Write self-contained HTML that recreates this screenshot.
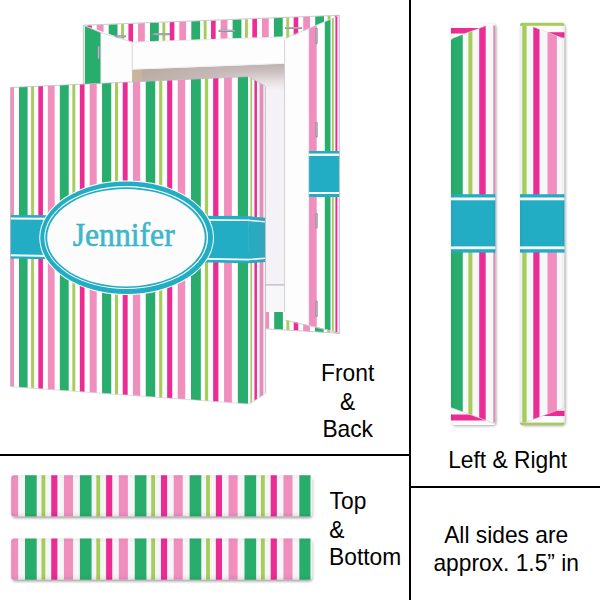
<!DOCTYPE html>
<html><head><meta charset="utf-8"><title>Canvas preview</title><style>html,body{margin:0;padding:0;background:#fff}svg{display:block}</style></head><body>
<svg width="600" height="600" viewBox="0 0 600 600">
<defs>
<clipPath id="cf"><polygon points="10.40,87.40 249.30,76.50 250.20,404.00 10.40,386.50"/></clipPath>
<clipPath id="cr"><polygon points="248.50,76.50 265.20,86.00 265.50,393.50 249.40,404.00"/></clipPath>
<clipPath id="ct"><polygon points="84.50,25.60 339.50,15.30 335.50,17.00 284.70,39.20 284.70,36.60 132.50,42.00"/></clipPath>
<clipPath id="cl"><polygon points="84.50,25.60 100.80,32.50 100.80,84.00 84.50,84.00"/></clipPath>
<clipPath id="crs"><polygon points="308.70,28.60 335.50,17.00 339.50,15.30 339.80,333.50 328.50,330.00 308.70,326.00"/></clipPath>
<clipPath id="cb"><polygon points="265.50,312.00 285.00,312.00 285.00,319.50 328.50,330.00 339.80,333.50 265.50,328.50"/></clipPath>
<linearGradient id="gint" x1="0" y1="0" x2="1" y2="0"><stop offset="0" stop-color="#b3a39b"/><stop offset="0.45" stop-color="#c0b2ae"/><stop offset="1" stop-color="#bfb2b0"/></linearGradient>
<linearGradient id="gintv" x1="0" y1="0" x2="0" y2="1"><stop offset="0" stop-color="#fff" stop-opacity="0"/><stop offset="1" stop-color="#fff" stop-opacity="0.25"/></linearGradient>
<linearGradient id="gfade" x1="0" y1="0" x2="0" y2="1"><stop offset="0" stop-color="#f4f2f6" stop-opacity="0"/><stop offset="0.35" stop-color="#f4f2f6" stop-opacity="0.22"/><stop offset="0.7" stop-color="#f4f2f6" stop-opacity="0.68"/><stop offset="1" stop-color="#f4f2f6" stop-opacity="1"/></linearGradient>
<linearGradient id="gshade" x1="0" y1="0" x2="1" y2="0"><stop offset="0" stop-color="#8a8090" stop-opacity="0.02"/><stop offset="1" stop-color="#8a8090" stop-opacity="0.16"/></linearGradient>
<linearGradient id="gstrip" x1="0" y1="0" x2="0" y2="1"><stop offset="0" stop-color="#000" stop-opacity="0.05"/><stop offset="0.12" stop-color="#000" stop-opacity="0"/><stop offset="0.85" stop-color="#000" stop-opacity="0"/><stop offset="1" stop-color="#000" stop-opacity="0.10"/></linearGradient>
<linearGradient id="gstripv" x1="0" y1="0" x2="1" y2="0"><stop offset="0" stop-color="#000" stop-opacity="0.05"/><stop offset="0.1" stop-color="#000" stop-opacity="0"/><stop offset="0.9" stop-color="#000" stop-opacity="0"/><stop offset="1" stop-color="#000" stop-opacity="0.07"/></linearGradient>
<linearGradient id="gstripe" x1="0" y1="0" x2="1" y2="0"><stop offset="0" stop-color="#000" stop-opacity="0.05"/><stop offset="0.015" stop-color="#000" stop-opacity="0"/><stop offset="0.985" stop-color="#000" stop-opacity="0"/><stop offset="1" stop-color="#000" stop-opacity="0.06"/></linearGradient>
<linearGradient id="gmh" gradientUnits="userSpaceOnUse" x1="205" y1="0" x2="258" y2="0"><stop offset="0" stop-color="#fff" stop-opacity="0"/><stop offset="1" stop-color="#fff" stop-opacity="1"/></linearGradient>
<mask id="mfade" maskUnits="userSpaceOnUse" x="200" y="60" width="90" height="35"><rect x="200" y="60" width="90" height="35" fill="url(#gmh)"/></mask>
<filter id="sh" x="-10%" y="-10%" width="120%" height="130%"><feGaussianBlur stdDeviation="1.6"/></filter>
<clipPath id="cs1"><rect x="11.2" y="475.2" width="301.1" height="41.4" rx="3" ry="3"/></clipPath>
<clipPath id="cs2"><rect x="11.2" y="538.4" width="301.1" height="41.4" rx="3" ry="3"/></clipPath>
<clipPath id="cv1"><rect x="451" y="22.8" width="44.3" height="402.3" rx="2.6" ry="2.6"/></clipPath>
<clipPath id="cv2"><rect x="520" y="22.8" width="44.5" height="402.3" rx="2.6" ry="2.6"/></clipPath>
</defs>
<rect x="0.00" y="0.00" width="600.00" height="600.00" fill="#fff" />
<polygon points="83.00,25.00 339.80,15.00 340.00,333.80 265.00,329.00 265.00,84.00 83.00,84.00" fill="#fdfdfd" />
<polygon points="132.30,69.60 284.70,63.60 284.70,100.00 132.30,100.00" fill="url(#gint)" />
<polygon points="132.30,69.60 284.70,63.60 284.70,100.00 132.30,100.00" fill="url(#gintv)" />
<polygon points="132.30,70.00 141.80,69.70 141.80,90.00 132.30,90.00" fill="#c9b49c" />
<polygon points="200.00,66.90 284.70,63.60 284.70,90.00 200.00,90.00" fill="url(#gfade)" mask="url(#mfade)"/>
<rect x="255.00" y="89.50" width="29.70" height="196.00" fill="#f4f2f6" />
<rect x="265.00" y="285.00" width="20.00" height="28.00" fill="#f7f6f9" />
<rect x="265.50" y="284.30" width="19.50" height="1.20" fill="#b9b7bd" />
<rect x="284.20" y="39.20" width="0.90" height="281.00" fill="#cfcdd3" />
<g clip-path="url(#ct)">
<rect x="80.00" y="10.00" width="270.00" height="40.00" fill="#fff" />
<rect x="26.10" y="10.00" width="8.80" height="40.00" fill="#29ad6c" />
<rect x="38.49" y="10.00" width="2.89" height="40.00" fill="#a6cd59" />
<rect x="45.84" y="10.00" width="4.63" height="40.00" fill="#ec2b94" />
<rect x="55.42" y="10.00" width="6.81" height="40.00" fill="#f08fbe" />
<rect x="67.40" y="10.00" width="8.80" height="40.00" fill="#29ad6c" />
<rect x="79.79" y="10.00" width="2.89" height="40.00" fill="#a6cd59" />
<rect x="87.14" y="10.00" width="4.63" height="40.00" fill="#ec2b94" />
<rect x="96.72" y="10.00" width="6.81" height="40.00" fill="#f08fbe" />
<rect x="108.70" y="10.00" width="8.80" height="40.00" fill="#29ad6c" />
<rect x="121.09" y="10.00" width="2.89" height="40.00" fill="#a6cd59" />
<rect x="128.44" y="10.00" width="4.63" height="40.00" fill="#ec2b94" />
<rect x="138.02" y="10.00" width="6.81" height="40.00" fill="#f08fbe" />
<rect x="150.00" y="10.00" width="8.80" height="40.00" fill="#29ad6c" />
<rect x="162.39" y="10.00" width="2.89" height="40.00" fill="#a6cd59" />
<rect x="169.74" y="10.00" width="4.63" height="40.00" fill="#ec2b94" />
<rect x="179.32" y="10.00" width="6.81" height="40.00" fill="#f08fbe" />
<rect x="191.30" y="10.00" width="8.80" height="40.00" fill="#29ad6c" />
<rect x="203.69" y="10.00" width="2.89" height="40.00" fill="#a6cd59" />
<rect x="211.04" y="10.00" width="4.63" height="40.00" fill="#ec2b94" />
<rect x="220.62" y="10.00" width="6.81" height="40.00" fill="#f08fbe" />
<rect x="232.60" y="10.00" width="8.80" height="40.00" fill="#29ad6c" />
<rect x="244.99" y="10.00" width="2.89" height="40.00" fill="#a6cd59" />
<rect x="252.34" y="10.00" width="4.63" height="40.00" fill="#ec2b94" />
<rect x="261.92" y="10.00" width="6.81" height="40.00" fill="#f08fbe" />
<rect x="273.90" y="10.00" width="8.80" height="40.00" fill="#29ad6c" />
<rect x="286.29" y="10.00" width="2.89" height="40.00" fill="#a6cd59" />
<rect x="293.64" y="10.00" width="4.63" height="40.00" fill="#ec2b94" />
<rect x="303.22" y="10.00" width="6.81" height="40.00" fill="#f08fbe" />
<rect x="315.20" y="10.00" width="8.80" height="40.00" fill="#29ad6c" />
<rect x="327.59" y="10.00" width="2.89" height="40.00" fill="#a6cd59" />
<rect x="334.94" y="10.00" width="4.63" height="40.00" fill="#ec2b94" />
<rect x="344.52" y="10.00" width="6.81" height="40.00" fill="#f08fbe" />
</g>
<g clip-path="url(#cl)">
<rect x="84.50" y="20.00" width="16.50" height="70.00" fill="#29ad6c" />
</g>
<rect x="83.00" y="25.30" width="1.60" height="59.00" fill="#e9e9ec" />
<g clip-path="url(#crs)">
<rect x="300.00" y="10.00" width="45.00" height="330.00" fill="#fff" />
<rect x="308.70" y="10.00" width="8.00" height="330.00" fill="#f08fbe" />
<rect x="324.80" y="10.00" width="5.70" height="330.00" fill="#29ad6c" />
<rect x="332.00" y="10.00" width="1.80" height="330.00" fill="#a6cd59" />
<rect x="335.40" y="10.00" width="2.00" height="330.00" fill="#ec2b94" />
<rect x="338.60" y="10.00" width="1.40" height="330.00" fill="#d8d6da" />
<rect x="300.00" y="151.00" width="45.00" height="46.00" fill="#23adc4" />
<rect x="300.00" y="153.60" width="45.00" height="2.30" fill="#fff" />
<rect x="300.00" y="192.00" width="45.00" height="2.00" fill="#fff" />
</g>
<g clip-path="url(#cb)">
<rect x="260.00" y="305.00" width="85.00" height="35.00" fill="#fff" />
<rect x="233.40" y="305.00" width="8.69" height="35.00" fill="#29ad6c" />
<rect x="245.64" y="305.00" width="2.86" height="35.00" fill="#a6cd59" />
<rect x="252.90" y="305.00" width="4.57" height="35.00" fill="#ec2b94" />
<rect x="262.37" y="305.00" width="6.73" height="35.00" fill="#f08fbe" />
<rect x="274.20" y="305.00" width="8.69" height="35.00" fill="#29ad6c" />
<rect x="286.44" y="305.00" width="2.86" height="35.00" fill="#a6cd59" />
<rect x="293.70" y="305.00" width="4.57" height="35.00" fill="#ec2b94" />
<rect x="303.17" y="305.00" width="6.73" height="35.00" fill="#f08fbe" />
<rect x="315.00" y="305.00" width="8.69" height="35.00" fill="#29ad6c" />
<rect x="327.24" y="305.00" width="2.86" height="35.00" fill="#a6cd59" />
<rect x="334.50" y="305.00" width="4.57" height="35.00" fill="#ec2b94" />
<rect x="343.97" y="305.00" width="6.73" height="35.00" fill="#f08fbe" />
</g>
<polyline points="83.30,84.00 83.30,25.20 339.30,15.30 339.60,333.20 265.50,328.80" fill="none" stroke="#c4c4cb" stroke-width="0.90"/>
<polyline points="85.00,26.00 100.80,32.60 132.30,42.20" fill="none" stroke="#d2d2d8" stroke-width="0.80"/>
<polyline points="132.30,42.20 132.30,70.00" fill="none" stroke="#d2d2d8" stroke-width="0.90"/>
<polyline points="100.80,32.60 100.80,84.00" fill="none" stroke="#d9d9de" stroke-width="0.70"/>
<polyline points="132.30,42.20 284.70,36.90" fill="none" stroke="#e3e3e8" stroke-width="0.70"/>
<polyline points="284.50,38.50 335.50,17.20" fill="none" stroke="#d2d2d8" stroke-width="0.80"/>
<polyline points="132.30,69.20 284.70,63.30" fill="none" stroke="#f1f1f3" stroke-width="1.00"/>
<polyline points="285.30,320.30 326.00,329.80 339.30,333.00" fill="none" stroke="#c9c9cf" stroke-width="0.90"/>
<polyline points="308.70,28.80 308.70,325.50" fill="none" stroke="#e6e4ea" stroke-width="0.60"/>
<line x1="116.5" y1="36.3" x2="125.0" y2="36.3" stroke="#8a8c9d" stroke-width="2.2" stroke-linecap="round"/>
<line x1="117.0" y1="36.1" x2="124.5" y2="36.1" stroke="#c9cad4" stroke-width="0.8" stroke-linecap="round"/>
<line x1="153.5" y1="34.2" x2="169.0" y2="34.2" stroke="#8a8c9d" stroke-width="2.2" stroke-linecap="round"/>
<line x1="154.0" y1="34.0" x2="168.5" y2="34.0" stroke="#c9cad4" stroke-width="0.8" stroke-linecap="round"/>
<line x1="219.5" y1="30.9" x2="234.5" y2="30.9" stroke="#8a8c9d" stroke-width="2.2" stroke-linecap="round"/>
<line x1="220.0" y1="30.7" x2="234.0" y2="30.7" stroke="#c9cad4" stroke-width="0.8" stroke-linecap="round"/>
<line x1="286.0" y1="28.0" x2="301.0" y2="28.0" stroke="#8a8c9d" stroke-width="2.2" stroke-linecap="round"/>
<line x1="286.5" y1="27.8" x2="300.5" y2="27.8" stroke="#c9cad4" stroke-width="0.8" stroke-linecap="round"/>
<line x1="98.5" y1="46.5" x2="98.5" y2="58.5" stroke="#8a8c9d" stroke-width="2.2" stroke-linecap="round"/>
<line x1="98.7" y1="47.0" x2="98.7" y2="58.0" stroke="#c9cad4" stroke-width="0.8" stroke-linecap="round"/>
<line x1="316.6" y1="29.0" x2="316.6" y2="43.0" stroke="#8a8c9d" stroke-width="2.2" stroke-linecap="round"/>
<line x1="316.8" y1="29.5" x2="316.8" y2="42.5" stroke="#c9cad4" stroke-width="0.8" stroke-linecap="round"/>
<line x1="316.6" y1="123.0" x2="316.6" y2="136.5" stroke="#8a8c9d" stroke-width="2.2" stroke-linecap="round"/>
<line x1="316.8" y1="123.5" x2="316.8" y2="136.0" stroke="#c9cad4" stroke-width="0.8" stroke-linecap="round"/>
<line x1="316.6" y1="214.0" x2="316.6" y2="227.5" stroke="#8a8c9d" stroke-width="2.2" stroke-linecap="round"/>
<line x1="316.8" y1="214.5" x2="316.8" y2="227.0" stroke="#c9cad4" stroke-width="0.8" stroke-linecap="round"/>
<line x1="316.6" y1="301.5" x2="316.6" y2="316.0" stroke="#8a8c9d" stroke-width="2.2" stroke-linecap="round"/>
<line x1="316.8" y1="302.0" x2="316.8" y2="315.5" stroke="#c9cad4" stroke-width="0.8" stroke-linecap="round"/>
<g clip-path="url(#cf)">
<rect x="5.00" y="70.00" width="250.00" height="340.00" fill="#fff" />
<rect x="-20.52" y="70.00" width="8.31" height="340.00" fill="#29ad6c" />
<rect x="-8.80" y="70.00" width="2.75" height="340.00" fill="#a6cd59" />
<rect x="-1.79" y="70.00" width="4.43" height="340.00" fill="#ec2b94" />
<rect x="7.40" y="70.00" width="6.58" height="340.00" fill="#f08fbe" />
<rect x="19.00" y="70.00" width="8.58" height="340.00" fill="#29ad6c" />
<rect x="31.10" y="70.00" width="2.84" height="340.00" fill="#a6cd59" />
<rect x="38.34" y="70.00" width="4.58" height="340.00" fill="#ec2b94" />
<rect x="47.85" y="70.00" width="6.80" height="340.00" fill="#f08fbe" />
<rect x="59.83" y="70.00" width="8.87" height="340.00" fill="#29ad6c" />
<rect x="72.35" y="70.00" width="2.94" height="340.00" fill="#a6cd59" />
<rect x="79.83" y="70.00" width="4.73" height="340.00" fill="#ec2b94" />
<rect x="89.66" y="70.00" width="7.04" height="340.00" fill="#f08fbe" />
<rect x="102.05" y="70.00" width="9.18" height="340.00" fill="#29ad6c" />
<rect x="115.00" y="70.00" width="3.04" height="340.00" fill="#a6cd59" />
<rect x="122.75" y="70.00" width="4.90" height="340.00" fill="#ec2b94" />
<rect x="132.92" y="70.00" width="7.28" height="340.00" fill="#f08fbe" />
<rect x="145.74" y="70.00" width="9.50" height="340.00" fill="#29ad6c" />
<rect x="159.14" y="70.00" width="3.15" height="340.00" fill="#a6cd59" />
<rect x="167.16" y="70.00" width="5.07" height="340.00" fill="#ec2b94" />
<rect x="177.69" y="70.00" width="7.54" height="340.00" fill="#f08fbe" />
<rect x="190.97" y="70.00" width="9.84" height="340.00" fill="#29ad6c" />
<rect x="204.85" y="70.00" width="3.26" height="340.00" fill="#a6cd59" />
<rect x="213.15" y="70.00" width="5.25" height="340.00" fill="#ec2b94" />
<rect x="224.06" y="70.00" width="7.81" height="340.00" fill="#f08fbe" />
<rect x="237.82" y="70.00" width="10.20" height="340.00" fill="#29ad6c" />
<rect x="252.20" y="70.00" width="3.38" height="340.00" fill="#a6cd59" />
<rect x="260.81" y="70.00" width="5.45" height="340.00" fill="#ec2b94" />
<rect x="272.11" y="70.00" width="8.10" height="340.00" fill="#f08fbe" />
<rect x="286.38" y="70.00" width="10.57" height="340.00" fill="#29ad6c" />
<rect x="301.29" y="70.00" width="3.50" height="340.00" fill="#a6cd59" />
<rect x="310.22" y="70.00" width="5.65" height="340.00" fill="#ec2b94" />
<rect x="321.95" y="70.00" width="8.40" height="340.00" fill="#f08fbe" />
<polygon points="10.00,215.00 249.00,216.10 249.00,263.30 10.00,258.60" fill="#23adc4" />
<polygon points="10.00,217.50 249.00,219.50 249.00,221.10 10.00,219.60" fill="#fff" />
<polygon points="10.00,254.20 249.00,258.70 249.00,260.40 10.00,256.30" fill="#fff" />
</g>
<g clip-path="url(#cr)">
<rect x="245.00" y="70.00" width="25.00" height="340.00" fill="#fff" />
<rect x="250.45" y="70.00" width="1.57" height="340.00" fill="#a6cd59" />
<rect x="254.44" y="70.00" width="2.51" height="340.00" fill="#ec2b94" />
<rect x="259.63" y="70.00" width="3.70" height="340.00" fill="#f08fbe" />
<polygon points="248.00,216.10 265.50,217.80 265.50,262.00 248.00,263.30" fill="#23adc4" />
<polygon points="248.00,219.50 265.50,221.30 265.50,222.50 248.00,221.10" fill="#fff" />
<polygon points="248.00,258.70 265.50,257.50 265.50,259.00 248.00,260.40" fill="#fff" />
<rect x="245.00" y="70.00" width="25.00" height="340.00" fill="url(#gshade)" />
</g>
<line x1="265.4" y1="86.5" x2="265.6" y2="393" stroke="#b9b5bf" stroke-width="0.8"/>
<polyline points="10.50,386.50 10.50,87.50 248.50,76.60 265.20,86.10" fill="none" stroke="#b4b4bc" stroke-width="0.70"/>
<polyline points="10.50,386.60 249.40,404.00 265.50,393.50" fill="none" stroke="#c8c8ce" stroke-width="0.60"/>
<ellipse cx="126.62" cy="237.75" rx="87.38" ry="57.25" fill="#fff" />
<ellipse cx="126.62" cy="237.75" rx="86.38" ry="56.25" fill="#23adc4" />
<ellipse cx="126.15" cy="237.50" rx="81.85" ry="51.50" fill="#fff" />
<ellipse cx="126.03" cy="237.60" rx="80.72" ry="50.40" fill="#23adc4" />
<ellipse cx="125.97" cy="237.70" rx="78.78" ry="48.80" fill="#fcfcfd" />
<text x="123.7" y="245.8" font-family="'Liberation Serif', serif" font-size="34" fill="#3fb9cc" stroke="#2aaec5" stroke-width="0.5" text-anchor="middle" textLength="102" lengthAdjust="spacingAndGlyphs">Jennifer</text>
<rect x="409.00" y="0.00" width="2.00" height="600.00" fill="#000" />
<rect x="0.00" y="454.00" width="410.00" height="2.00" fill="#000" />
<rect x="410.00" y="486.00" width="190.00" height="2.00" fill="#000" />
<rect x="12.2" y="478.0" width="300" height="40" rx="3" fill="#000" opacity="0.4" filter="url(#sh)"/>
<g clip-path="url(#cs1)">
<rect x="10.00" y="474.20" width="305.00" height="44.00" fill="#f6f6f6" />
<rect x="-29.87" y="474.20" width="11.69" height="44.00" fill="#29ad6c" />
<rect x="-13.41" y="474.20" width="3.84" height="44.00" fill="#a6cd59" />
<rect x="-3.64" y="474.20" width="6.15" height="44.00" fill="#ec2b94" />
<rect x="9.09" y="474.20" width="9.05" height="44.00" fill="#f08fbe" />
<rect x="25.00" y="474.20" width="11.69" height="44.00" fill="#29ad6c" />
<rect x="41.46" y="474.20" width="3.84" height="44.00" fill="#a6cd59" />
<rect x="51.23" y="474.20" width="6.15" height="44.00" fill="#ec2b94" />
<rect x="63.96" y="474.20" width="9.05" height="44.00" fill="#f08fbe" />
<rect x="79.87" y="474.20" width="11.69" height="44.00" fill="#29ad6c" />
<rect x="96.33" y="474.20" width="3.84" height="44.00" fill="#a6cd59" />
<rect x="106.10" y="474.20" width="6.15" height="44.00" fill="#ec2b94" />
<rect x="118.83" y="474.20" width="9.05" height="44.00" fill="#f08fbe" />
<rect x="134.74" y="474.20" width="11.69" height="44.00" fill="#29ad6c" />
<rect x="151.20" y="474.20" width="3.84" height="44.00" fill="#a6cd59" />
<rect x="160.97" y="474.20" width="6.15" height="44.00" fill="#ec2b94" />
<rect x="173.70" y="474.20" width="9.05" height="44.00" fill="#f08fbe" />
<rect x="189.61" y="474.20" width="11.69" height="44.00" fill="#29ad6c" />
<rect x="206.07" y="474.20" width="3.84" height="44.00" fill="#a6cd59" />
<rect x="215.84" y="474.20" width="6.15" height="44.00" fill="#ec2b94" />
<rect x="228.57" y="474.20" width="9.05" height="44.00" fill="#f08fbe" />
<rect x="244.48" y="474.20" width="11.69" height="44.00" fill="#29ad6c" />
<rect x="260.94" y="474.20" width="3.84" height="44.00" fill="#a6cd59" />
<rect x="270.71" y="474.20" width="6.15" height="44.00" fill="#ec2b94" />
<rect x="283.44" y="474.20" width="9.05" height="44.00" fill="#f08fbe" />
<rect x="299.35" y="474.20" width="11.69" height="44.00" fill="#29ad6c" />
<rect x="315.81" y="474.20" width="3.84" height="44.00" fill="#a6cd59" />
<rect x="325.58" y="474.20" width="6.15" height="44.00" fill="#ec2b94" />
<rect x="338.31" y="474.20" width="9.05" height="44.00" fill="#f08fbe" />
<rect x="310.50" y="474.20" width="4.00" height="44.00" fill="#f6f6f6" />
<rect x="10.00" y="474.20" width="305.00" height="44.00" fill="url(#gstrip)" />
<rect x="10.00" y="474.20" width="305.00" height="44.00" fill="url(#gstripe)" />
</g>
<rect x="12.2" y="541.2" width="300" height="40" rx="3" fill="#000" opacity="0.4" filter="url(#sh)"/>
<g clip-path="url(#cs2)">
<rect x="10.00" y="537.40" width="305.00" height="44.00" fill="#f6f6f6" />
<rect x="-29.87" y="537.40" width="11.69" height="44.00" fill="#29ad6c" />
<rect x="-13.41" y="537.40" width="3.84" height="44.00" fill="#a6cd59" />
<rect x="-3.64" y="537.40" width="6.15" height="44.00" fill="#ec2b94" />
<rect x="9.09" y="537.40" width="9.05" height="44.00" fill="#f08fbe" />
<rect x="25.00" y="537.40" width="11.69" height="44.00" fill="#29ad6c" />
<rect x="41.46" y="537.40" width="3.84" height="44.00" fill="#a6cd59" />
<rect x="51.23" y="537.40" width="6.15" height="44.00" fill="#ec2b94" />
<rect x="63.96" y="537.40" width="9.05" height="44.00" fill="#f08fbe" />
<rect x="79.87" y="537.40" width="11.69" height="44.00" fill="#29ad6c" />
<rect x="96.33" y="537.40" width="3.84" height="44.00" fill="#a6cd59" />
<rect x="106.10" y="537.40" width="6.15" height="44.00" fill="#ec2b94" />
<rect x="118.83" y="537.40" width="9.05" height="44.00" fill="#f08fbe" />
<rect x="134.74" y="537.40" width="11.69" height="44.00" fill="#29ad6c" />
<rect x="151.20" y="537.40" width="3.84" height="44.00" fill="#a6cd59" />
<rect x="160.97" y="537.40" width="6.15" height="44.00" fill="#ec2b94" />
<rect x="173.70" y="537.40" width="9.05" height="44.00" fill="#f08fbe" />
<rect x="189.61" y="537.40" width="11.69" height="44.00" fill="#29ad6c" />
<rect x="206.07" y="537.40" width="3.84" height="44.00" fill="#a6cd59" />
<rect x="215.84" y="537.40" width="6.15" height="44.00" fill="#ec2b94" />
<rect x="228.57" y="537.40" width="9.05" height="44.00" fill="#f08fbe" />
<rect x="244.48" y="537.40" width="11.69" height="44.00" fill="#29ad6c" />
<rect x="260.94" y="537.40" width="3.84" height="44.00" fill="#a6cd59" />
<rect x="270.71" y="537.40" width="6.15" height="44.00" fill="#ec2b94" />
<rect x="283.44" y="537.40" width="9.05" height="44.00" fill="#f08fbe" />
<rect x="299.35" y="537.40" width="11.69" height="44.00" fill="#29ad6c" />
<rect x="315.81" y="537.40" width="3.84" height="44.00" fill="#a6cd59" />
<rect x="325.58" y="537.40" width="6.15" height="44.00" fill="#ec2b94" />
<rect x="338.31" y="537.40" width="9.05" height="44.00" fill="#f08fbe" />
<rect x="310.50" y="537.40" width="4.00" height="44.00" fill="#f6f6f6" />
<rect x="10.00" y="537.40" width="305.00" height="44.00" fill="url(#gstrip)" />
<rect x="10.00" y="537.40" width="305.00" height="44.00" fill="url(#gstripe)" />
</g>
<rect x="452.3" y="24.8" width="43.9" height="401" rx="3" fill="#000" opacity="0.38" filter="url(#sh)"/>
<rect x="451.00" y="22.8" width="44.30" height="402.3" rx="2.6" ry="2.6" fill="#f8f8f8"/>
<g clip-path="url(#cv1)">
<rect x="451.00" y="25.50" width="11.75" height="397.00" fill="#29ad6c" />
<rect x="468.35" y="25.50" width="4.05" height="397.00" fill="#a6cd59" />
<rect x="479.20" y="25.50" width="6.50" height="397.00" fill="#ec2b94" />
<rect x="493.30" y="25.50" width="2.20" height="397.00" fill="#f08fbe" />
<path d="M450.5,40 Q453,38 456,37 L485.8,25.8 L486,22 L450.5,22 Z" fill="#fbfbfb"/>
<polygon points="450.50,27.90 480.20,27.90 465.00,33.60 450.50,33.60" fill="#ec2b94" />
<polygon points="450.50,407.40 496.00,424.10 496.00,426.00 450.50,426.00" fill="#fbfbfb" />
<polygon points="450.50,414.50 469.90,414.50 486.20,420.50 450.50,420.50" fill="#ec2b94" />
<path d="M451,407.6 L495,423.7" stroke="#d0d0d0" stroke-width="0.6" fill="none"/>
<path d="M451,39.8 Q453,38 456,37 L485.8,25.8" stroke="#dcdcdc" stroke-width="0.5" fill="none"/>
<rect x="450.50" y="194.20" width="46.00" height="58.40" fill="#23adc4" />
<rect x="450.50" y="197.50" width="46.00" height="2.80" fill="#fff" />
<rect x="450.50" y="246.40" width="46.00" height="2.80" fill="#fff" />
<rect x="450.50" y="22.00" width="46.00" height="404.00" fill="url(#gstripv)" />
</g>
<rect x="521.3" y="24.8" width="44.1" height="401" rx="3" fill="#000" opacity="0.38" filter="url(#sh)"/>
<rect x="520.00" y="22.8" width="44.50" height="402.3" rx="2.6" ry="2.6" fill="#f8f8f8"/>
<g clip-path="url(#cv2)">
<rect x="522.30" y="25.50" width="4.30" height="397.00" fill="#a6cd59" />
<rect x="533.30" y="25.50" width="6.20" height="397.00" fill="#ec2b94" />
<rect x="547.50" y="25.50" width="9.40" height="397.00" fill="#f08fbe" />
<path d="M532.9,26.7 L558,36.3 Q562,37.8 565,38.7 L565,22 L532.9,22 Z" fill="#fbfbfb"/>
<polygon points="547.30,32.20 565.00,32.20 565.00,37.70 561.80,37.70" fill="#ec2b94" />
<rect x="519.50" y="22.30" width="46.00" height="3.50" fill="#a6cd59" />
<path d="M532.9,26.7 L558,36.3 Q562,37.8 564.5,38.6" stroke="#dcdcdc" stroke-width="0.5" fill="none"/>
<polygon points="565.00,407.40 521.90,423.70 519.50,424.00 519.50,426.00 565.00,426.00" fill="#fbfbfb" />
<polygon points="565.00,410.80 556.00,410.80 542.50,415.90 565.00,415.90" fill="#ec2b94" />
<path d="M564.5,407.6 L521.9,423.7" stroke="#d0d0d0" stroke-width="0.6" fill="none"/>
<rect x="519.50" y="422.60" width="46.00" height="3.50" fill="#a6cd59" />
<rect x="519.50" y="194.20" width="46.00" height="58.40" fill="#23adc4" />
<rect x="519.50" y="197.50" width="46.00" height="2.80" fill="#fff" />
<rect x="519.50" y="246.40" width="46.00" height="2.80" fill="#fff" />
<rect x="519.50" y="22.00" width="46.00" height="404.00" fill="url(#gstripv)" />
</g>
<text transform="translate(347.7 381.2) scale(0.965 1)" font-family="'Liberation Sans', Arial, sans-serif" font-size="23.6" fill="#000" text-anchor="middle">Front</text>
<text transform="translate(347.7 409.5) scale(0.965 1)" font-family="'Liberation Sans', Arial, sans-serif" font-size="23.6" fill="#000" text-anchor="middle">&amp;</text>
<text transform="translate(347.7 437.2) scale(0.965 1)" font-family="'Liberation Sans', Arial, sans-serif" font-size="23.6" fill="#000" text-anchor="middle">Back</text>
<text transform="translate(329.6 509.3) scale(0.965 1)" font-family="'Liberation Sans', Arial, sans-serif" font-size="23.6" fill="#000" text-anchor="start">Top</text>
<text transform="translate(329.3 537.6) scale(0.965 1)" font-family="'Liberation Sans', Arial, sans-serif" font-size="23.6" fill="#000" text-anchor="start">&amp;</text>
<text transform="translate(329.1 565.3) scale(0.965 1)" font-family="'Liberation Sans', Arial, sans-serif" font-size="23.6" fill="#000" text-anchor="start">Bottom</text>
<text transform="translate(507.7 468.0) scale(0.965 1)" font-family="'Liberation Sans', Arial, sans-serif" font-size="23.6" fill="#000" text-anchor="middle">Left &amp; Right</text>
<text transform="translate(506.2 543.2) scale(0.965 1)" font-family="'Liberation Sans', Arial, sans-serif" font-size="23.6" fill="#000" text-anchor="middle">All sides are</text>
<text transform="translate(506.2 570.6) scale(0.965 1)" font-family="'Liberation Sans', Arial, sans-serif" font-size="23.6" fill="#000" text-anchor="middle">approx. 1.5” in</text>
</svg>
</body></html>
